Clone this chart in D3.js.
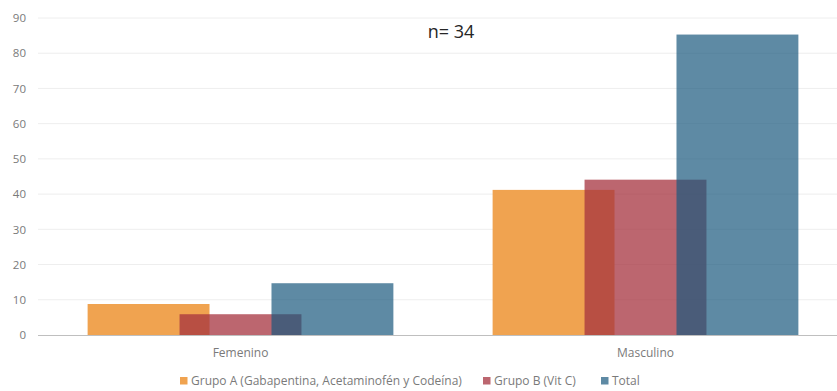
<!DOCTYPE html>
<html>
<head>
<meta charset="utf-8">
<script src="https://cdn.jsdelivr.net/npm/d3@7/dist/d3.min.js"></script>
<style>
  html, body { margin: 0; padding: 0; background: #fff; }
  svg { display: block; font-family: "Open Sans", "Liberation Sans", sans-serif; }
</style>
</head>
<body>
<svg id="chart" width="837" height="391"></svg>
<script>
// Distribution by sex (%), n = 34
const categories = ["Femenino", "Masculino"];
const seriesNames = ["Grupo A (Gabapentina, Acetaminofén y Codeína)", "Grupo B (Vit C)", "Total"];
const grupoA = [8.8, 41.2];
const grupoB = [5.9, 44.1];
const total = [14.7, 85.3];
const yTicks = [0, 10, 20, 30, 40, 50, 60, 70, 80, 90];
const annotation = "n= 34";

const seriesValues = [grupoA, grupoB, total];
const fills = ["#F0A350", "#A6333F", "#19587D"];
const opacities = [1, 0.75, 0.7];

const W = 837, H = 391;
const plotLeft = 38, plotRight = 848, plotTop = 18, plotBottom = 335;

const svg = d3.select("#chart");

const y = d3.scaleLinear().domain([0, 90]).range([plotBottom, plotTop]);
const x0 = d3.scaleBand().domain(categories).range([plotLeft, plotRight]).padding(0);
const bw = x0.bandwidth();
const barW = bw * 0.301;
const x1 = d3.scalePoint().domain(seriesNames).range([-bw * 0.227, bw * 0.227]);

// gridlines
svg.append("g")
  .selectAll("line")
  .data(yTicks.filter(t => t > 0))
  .join("line")
  .attr("x1", plotLeft).attr("x2", W)
  .attr("y1", d => y(d)).attr("y2", d => y(d))
  .attr("stroke", "#EEEEEE").attr("stroke-width", 1);

// y axis labels
const yAxis = d3.axisLeft(y).tickValues(yTicks).tickSize(0).tickPadding(0);
svg.append("g")
  .attr("transform", `translate(26,0)`)
  .call(yAxis)
  .call(g => g.select(".domain").remove())
  .call(g => g.selectAll("text")
    .attr("fill", "#7A7A7A")
    .style("font-size", "11.5px")
    .style("font-family", "'Open Sans', sans-serif"));

// bars
seriesNames.forEach((s, i) => {
  svg.append("g")
    .selectAll("rect")
    .data(categories.map((c, j) => ({ c, v: seriesValues[i][j] })))
    .join("rect")
    .attr("x", d => x0(d.c) + bw / 2 + x1(s) - barW / 2)
    .attr("width", barW)
    .attr("y", d => y(d.v))
    .attr("height", d => y(0) - y(d.v))
    .attr("fill", fills[i])
    .attr("fill-opacity", opacities[i]);
});

// baseline
svg.append("line")
  .attr("x1", plotLeft).attr("x2", W)
  .attr("y1", y(0) + 0.5).attr("y2", y(0) + 0.5)
  .attr("stroke", "#BFBFBF").attr("stroke-width", 1.2);

// category labels
const xAxis = d3.axisBottom(x0).tickSize(0).tickPadding(0);
svg.append("g")
  .attr("transform", `translate(0,${plotBottom + 13})`)
  .call(xAxis)
  .call(g => g.select(".domain").remove())
  .call(g => g.selectAll("text")
    .attr("fill", "#7A7A7A")
    .style("font-size", "12px")
    .style("font-family", "'Open Sans', sans-serif"));

// annotation
svg.append("text")
  .attr("x", 451).attr("y", 38)
  .attr("text-anchor", "middle")
  .attr("fill", "#262626")
  .style("font-size", "18px")
  .text(annotation);

// legend
const legendX = [180, 483, 601];
const lg = svg.append("g").attr("transform", "translate(0,381)");
seriesNames.forEach((s, i) => {
  const g = lg.append("g").attr("transform", `translate(${legendX[i]},0)`);
  g.append("rect").attr("x", 0).attr("y", -4).attr("width", 7.5).attr("height", 7.5)
    .attr("fill", fills[i]).attr("fill-opacity", opacities[i]);
  g.append("text").attr("x", 11).attr("y", 4)
    .attr("fill", "#7A7A7A")
    .style("font-size", "12px")
    .text(s);
});
</script>
</body>
</html>
